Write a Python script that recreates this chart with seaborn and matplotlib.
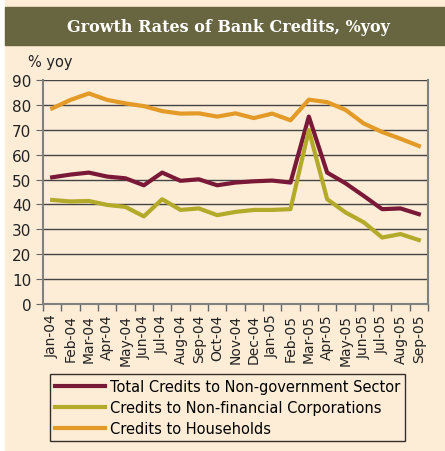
import matplotlib.pyplot as plt
import matplotlib.patches as mpatches
import numpy as np
import pandas as pd
import seaborn as sns

months = ['Jan-04', 'Feb-04', 'Mar-04', 'Apr-04', 'May-04', 'Jun-04', 'Jul-04', 'Aug-04',
          'Sep-04', 'Oct-04', 'Nov-04', 'Dec-04', 'Jan-05', 'Feb-05', 'Mar-05', 'Apr-05',
          'May-05', 'Jun-05', 'Jul-05', 'Aug-05', 'Sep-05']
total = [50.9, 52.0, 52.8, 51.2, 50.5, 47.7, 52.8, 49.5, 50.1, 47.7, 48.8, 49.3, 49.6, 48.8,
         75.3, 52.8, 48.5, 43.4, 38.1, 38.4, 36.1]
corporations = [41.8, 41.2, 41.4, 39.8, 39.0, 35.2, 42.1, 37.8, 38.4, 35.7, 37.0, 37.8, 37.8, 38.1,
                69.9, 42.1, 36.8, 32.8, 26.7, 28.1, 25.7]
households = [78.6, 82.0, 84.6, 82.0, 80.6, 79.5, 77.5, 76.5, 76.6, 75.3, 76.6, 74.7, 76.5, 73.8,
              82.1, 81.1, 78.0, 72.5, 69.1, 66.4, 63.5]
series_names = ['Total Credits to Non-government Sector',
                'Credits to Non-financial Corporations',
                'Credits to Households']
colors = ['#7a1838', '#b3aa2a', '#e39a27']

df = pd.concat([
    pd.DataFrame({'month': months, 'value': vals, 'series': name})
    for name, vals in zip(series_names, [total, corporations, households])
])

bg = '#fdedd6'
fig = plt.figure(figsize=(4.45, 4.52), dpi=100, facecolor='white')
# cream panel + olive title band
fig.patches.append(mpatches.Rectangle((5 / 445, 0), 1, 1, transform=fig.transFigure,
                                      color=bg, zorder=-2))
fig.patches.append(mpatches.Rectangle((5 / 445, 1 - 46 / 452), 1, 38 / 452,
                                      transform=fig.transFigure, color='#676641', zorder=-1))
fig.text(0.513, 1 - 27 / 452, 'Growth Rates of Bank Credits, %yoy', color='white',
         fontsize=11.5, fontweight='bold', family='DejaVu Serif', ha='center', va='center')
fig.text(28 / 445, 1 - 62 / 452, '% yoy', fontsize=10.5, color='#222222', va='center')

ax = fig.add_axes([43 / 445, 1 - 305 / 452, 385 / 445, 224 / 452])
ax.set_facecolor(bg)
sns.lineplot(data=df, x='month', y='value', hue='series', palette=colors,
             linewidth=3, ax=ax, legend=True, sort=False)

ax.set_xlim(-0.5, len(months) - 0.5)
ax.set_ylim(0, 90)
ax.set_yticks(np.arange(0, 91, 10))
ax.set_xticks(range(len(months)))
ax.set_xticklabels(months, rotation=90)
ax.set_xticks(np.arange(-0.5, len(months), 1), minor=True)
ax.tick_params(axis='x', which='major', length=0, pad=7, labelsize=10, colors='#222222')
ax.tick_params(axis='x', which='minor', length=5, color='#666666', width=1)
ax.tick_params(axis='y', length=5, color='#666666', labelsize=11, colors='#222222')
ax.grid(axis='y', color='#444444', linewidth=1)
ax.set_axisbelow(True)
for s in ax.spines.values():
    s.set_color('#808080')
    s.set_linewidth(1.5)
ax.spines['top'].set_visible(False)
ax.set_xlabel('')
ax.set_ylabel('')

handles, labels = ax.get_legend_handles_labels()
ax.get_legend().remove()
leg = fig.legend(handles, labels, loc='upper left', bbox_to_anchor=(50 / 445, 1 - 375 / 452),
                 fontsize=10.5, frameon=True, fancybox=False, handlelength=3.4,
                 borderpad=0.35, labelspacing=0.42, handletextpad=0.35, borderaxespad=0)
leg.get_frame().set_edgecolor('black')
leg.get_frame().set_facecolor(bg)
leg.get_frame().set_linewidth(1)

fig.savefig('out.png', dpi=100, facecolor='white')
